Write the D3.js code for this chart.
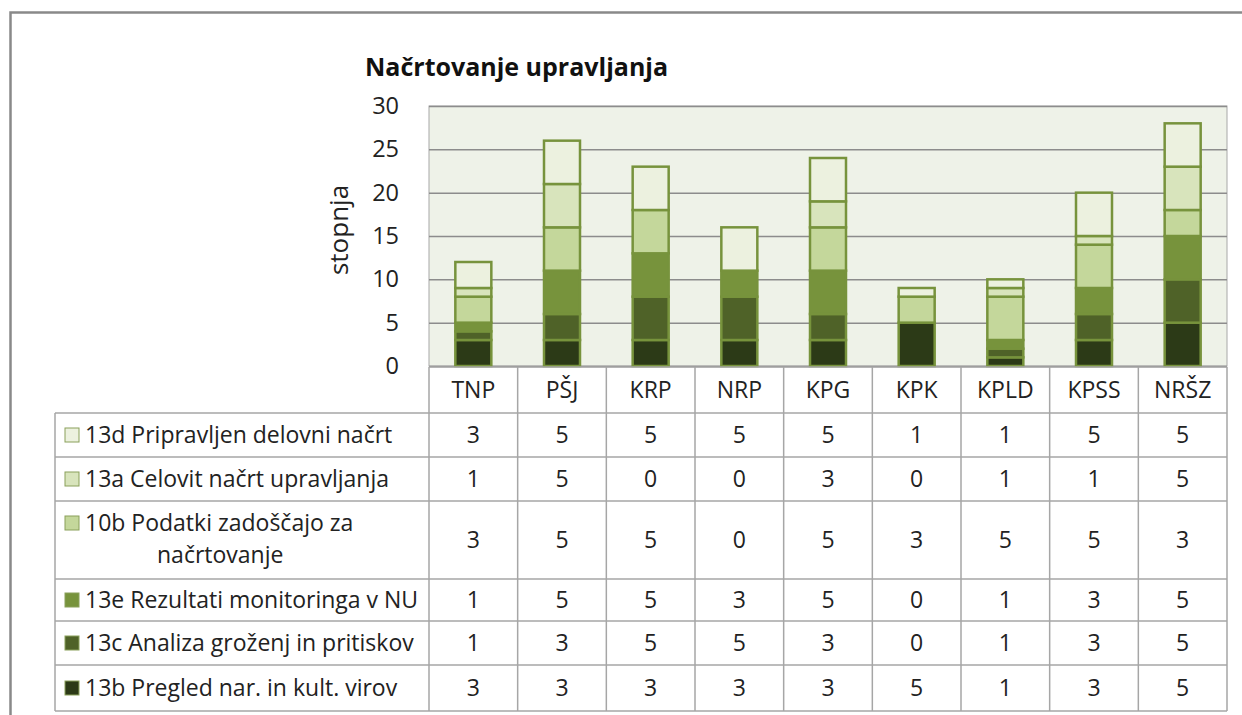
<!DOCTYPE html>
<html>
<head>
<meta charset="utf-8">
<script src="https://cdn.jsdelivr.net/npm/d3@7"></script>
<style>
  body { margin: 0; background: #fff; }
  svg { display: block; font-family: "Open Sans", Lato, sans-serif; }
</style>
</head>
<body>
<div id="chart"></div>
<script>
// data
const categories = ['TNP', 'PŠJ', 'KRP', 'NRP', 'KPG', 'KPK', 'KPLD', 'KPSS', 'NRŠZ'];
const s13d = [3, 5, 5, 5, 5, 1, 1, 5, 5];
const s13a = [1, 5, 0, 0, 3, 0, 1, 1, 5];
const s10b = [3, 5, 5, 0, 5, 3, 5, 5, 3];
const s13e = [1, 5, 5, 3, 5, 0, 1, 3, 5];
const s13c = [1, 3, 5, 5, 3, 0, 1, 3, 5];
const s13b = [3, 3, 3, 3, 3, 5, 1, 3, 5];
const yTicks = [0, 5, 10, 15, 20, 25, 30];

// series, bottom of stack first
const series = [
  { key: '13b', label: ['13b Pregled nar. in kult. virov'], values: s13b, color: '#2c3a17' },
  { key: '13c', label: ['13c Analiza groženj in pritiskov'], values: s13c, color: '#4f6228' },
  { key: '13e', label: ['13e Rezultati monitoringa v NU'], values: s13e, color: '#77933c' },
  { key: '10b', label: ['10b Podatki zadoščajo za', 'načrtovanje'], values: s10b, color: '#c4d79b' },
  { key: '13a', label: ['13a Celovit načrt upravljanja'], values: s13a, color: '#d8e4bc' },
  { key: '13d', label: ['13d Pripravljen delovni načrt'], values: s13d, color: '#ecf1df' },
];

const width = 1242, height = 715;
const plot = { left: 429, right: 1227, top: 106, bottom: 366 };
const tableLeft = 55;
// row boundaries of the data table (header first)
const rowEdges = [367, 413, 457, 501, 579, 621, 665, 711];
const fs = 23;

const svg = d3.select('#chart').append('svg').attr('width', width).attr('height', height);

// outer frame
svg.append('path')
  .attr('d', `M10.5,${height} V12.5 H${width}`)
  .attr('fill', 'none').attr('stroke', '#898989').attr('stroke-width', 2.5);

const x = d3.scaleBand().domain(categories).range([plot.left, plot.right]);
const y = d3.scaleLinear().domain([0, 30]).range([plot.bottom, plot.top]);

// plot background
svg.append('rect')
  .attr('x', plot.left).attr('y', plot.top)
  .attr('width', plot.right - plot.left).attr('height', plot.bottom - plot.top)
  .attr('fill', '#eef2e8').attr('stroke', '#a8a8a8').attr('stroke-width', 1);

// gridlines
svg.append('g')
  .attr('transform', `translate(${plot.left},0)`)
  .call(d3.axisLeft(y).tickValues(yTicks).tickSize(-(plot.right - plot.left)).tickFormat(''))
  .call(g => g.select('.domain').remove())
  .call(g => g.selectAll('line').attr('stroke', '#8c8c8c').attr('stroke-width', 1.5));

// y tick labels
svg.append('g')
  .attr('transform', `translate(${plot.left - 30},0)`)
  .call(d3.axisLeft(y).tickValues(yTicks).tickSize(0).tickPadding(0))
  .call(g => g.select('.domain').remove())
  .call(g => g.selectAll('text')
    .attr('font-size', 23.5).attr('fill', '#222')
    .style('font-family', '"Open Sans", sans-serif'));

// y title
svg.append('text')
  .attr('transform', `translate(348,${(plot.top + plot.bottom) / 2 - 6}) rotate(-90)`)
  .attr('text-anchor', 'middle')
  .attr('font-size', 26).attr('fill', '#222')
  .text('stopnja');

// chart title
svg.append('text')
  .attr('x', 365).attr('y', 76)
  .attr('font-size', 25).attr('font-weight', 'bold').attr('fill', '#111')
  .text('Načrtovanje upravljanja');

// stacked bars
const rows = categories.map((c, i) => {
  const r = { cat: c };
  series.forEach(s => { r[s.key] = s.values[i]; });
  return r;
});
const stacked = d3.stack().keys(series.map(s => s.key))(rows);
const barW = 36;

svg.append('g').selectAll('g')
  .data(stacked)
  .join('g')
  .attr('fill', (d, i) => series[i].color)
  .selectAll('rect')
  .data(d => d.filter(p => p[1] - p[0] > 0))
  .join('rect')
  .attr('x', d => x(d.data.cat) + x.bandwidth() / 2 - barW / 2)
  .attr('y', d => y(d[1]))
  .attr('width', barW)
  .attr('height', d => y(d[0]) - y(d[1]))
  .attr('stroke', '#77933c')
  .attr('stroke-width', 2.5);

// data table
const table = svg.append('g');
const lineColor = '#a6a6a6';
const tableRows = series.slice().reverse();

// horizontal lines
rowEdges.forEach((yy, i) => {
  table.append('line')
    .attr('x1', i === 0 ? plot.left : tableLeft).attr('x2', plot.right)
    .attr('y1', yy).attr('y2', yy)
    .attr('stroke', lineColor).attr('stroke-width', 1.5);
});
// vertical lines
table.append('line')
  .attr('x1', tableLeft).attr('x2', tableLeft)
  .attr('y1', rowEdges[1]).attr('y2', rowEdges[rowEdges.length - 1])
  .attr('stroke', lineColor).attr('stroke-width', 1.5);
categories.concat(['end']).forEach((c, i) => {
  const xx = plot.left + i * x.bandwidth();
  table.append('line')
    .attr('x1', xx).attr('x2', xx)
    .attr('y1', rowEdges[0]).attr('y2', rowEdges[rowEdges.length - 1])
    .attr('stroke', lineColor).attr('stroke-width', 1.5);
});

// header labels
table.selectAll('text.head')
  .data(categories)
  .join('text')
  .attr('class', 'head')
  .attr('x', d => x(d) + x.bandwidth() / 2)
  .attr('y', (rowEdges[0] + rowEdges[1]) / 2)
  .attr('dy', '0.35em')
  .attr('text-anchor', 'middle')
  .attr('font-size', fs).attr('fill', '#222')
  .text(d => d);

// value rows
tableRows.forEach((s, ri) => {
  const top = rowEdges[ri + 1], bot = rowEdges[ri + 2];
  const mid = (top + bot) / 2;
  const g = table.append('g');

  g.append('rect')
    .attr('x', 65).attr('y', s.label.length > 1 ? top + 15 : mid - 7)
    .attr('width', 14).attr('height', 14)
    .attr('fill', s.color).attr('stroke', '#8aa05a').attr('stroke-width', 1);

  if (s.label.length > 1) {
    g.append('text').attr('x', 85).attr('y', top + 22).attr('dy', '0.35em')
      .attr('font-size', fs).attr('fill', '#222').text(s.label[0]);
    g.append('text').attr('x', 157).attr('y', top + 54).attr('dy', '0.35em')
      .attr('font-size', fs).attr('fill', '#222').text(s.label[1]);
  } else {
    g.append('text').attr('x', 85).attr('y', mid).attr('dy', '0.35em')
      .attr('font-size', fs).attr('fill', '#222').text(s.label[0]);
  }

  g.selectAll('text.val')
    .data(s.values)
    .join('text')
    .attr('class', 'val')
    .attr('x', (d, i) => x(categories[i]) + x.bandwidth() / 2)
    .attr('y', mid)
    .attr('dy', '0.35em')
    .attr('text-anchor', 'middle')
    .attr('font-size', fs).attr('fill', '#222')
    .text(d => d);
});
</script>
</body>
</html>
